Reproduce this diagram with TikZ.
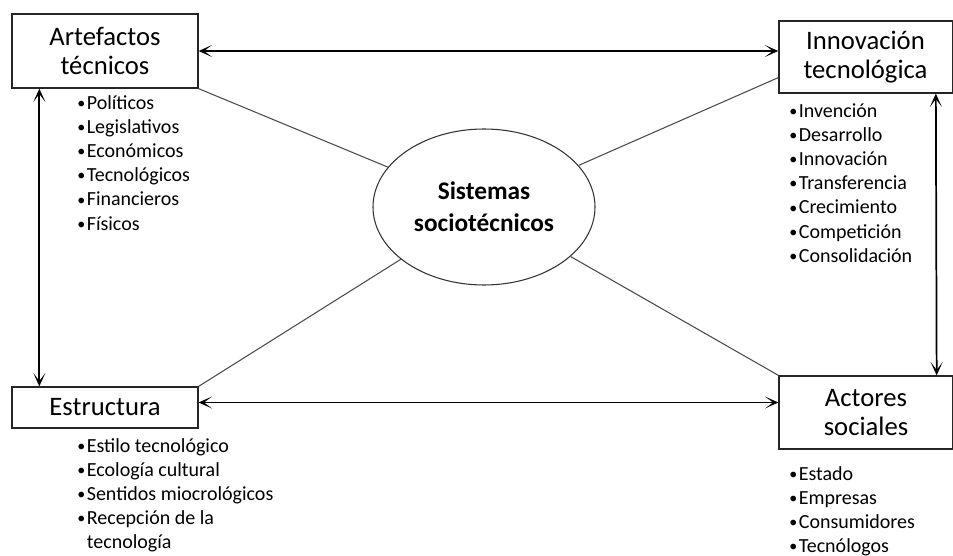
\documentclass[tikz,border=0pt]{standalone}
\usepackage{fontspec}
\setmainfont{Carlito}
\usetikzlibrary{shapes.geometric, arrows.meta, positioning, calc}
\tikzstyle{arrow} = [line width=1.3pt, {Stealth[length=10pt,width=9pt,inset=6pt]}-{Stealth[length=10pt,width=9pt,inset=6pt]}]
\tikzstyle{link} = [line width=0.8pt, draw=black!70]
\tikzstyle{box} = [rectangle, draw=black!85, line width=1pt, align=center, font=\fontsize{20}{21.75}\selectfont]
\tikzstyle{hub} = [ellipse, draw=black!80, line width=0.8pt, minimum width=166.5pt, minimum height=117pt, align=center, font=\bfseries\fontsize{19}{24}\selectfont]
\tikzstyle{items} = [anchor=north west, inner sep=0pt, align=left, font=\fontsize{15}{18.15}\selectfont]
\newcommand{\itm}{\raisebox{0.6pt}{\fontsize{12}{12}\selectfont•}\kern1.2pt}

\begin{document}
\begin{tikzpicture}[x=0.75pt, y=-0.75pt]
    \useasboundingbox (0,0) rectangle (953,556);
    % Entities
    \node[box, minimum width=139.5pt, minimum height=55.5pt] (artefactos) at (105,51) {Artefactos\\técnicos};
    \node[box, minimum width=130pt, minimum height=54pt] (innovacion) at (865.5,57) {Innovación\\tecnológica};
    \node[box, minimum width=139.5pt, minimum height=30.75pt] (estructura) at (105,407.5) {Estructura};
    \node[box, minimum width=130.5pt, minimum height=54.75pt] (actores) at (866,412.5) {Actores\\sociales};
    \node[hub] (sistemas) at (484,207) {Sistemas\\sociotécnicos};

    % Lists
    \node[items] (artefactoslist) at (77,95) {\itm Políticos\\
        \itm Legislativos\\
        \itm Económicos\\
        \itm Tecnológicos\\
        \itm Financieros\\
        \itm Físicos};
    \node[items] (innovacionlist) at (789,103) {\itm Invención\\
        \itm Desarrollo\\
        \itm Innovación\\
        \itm Transferencia\\
        \itm Crecimiento\\
        \itm Competición\\
        \itm Consolidación};
    \node[items] (estructuralist) at (77,438) {\itm Estilo tecnológico\\
        \itm Ecología cultural\\
        \itm Sentidos miocrológicos\\
        \itm Recepción de la\\
        \phantom{\itm}tecnología};
    \node[items] (actoreslist) at (789,466) {\itm Estado\\
        \itm Empresas\\
        \itm Consumidores\\
        \itm Tecnólogos};

    % Relationships
    \draw[arrow] (artefactos.east) -- (artefactos.east -| innovacion.west);
    \draw[arrow] ([yshift=3.75pt]estructura.east) -- ([yshift=3.75pt]estructura.east -| actores.west);
    \draw[arrow] ([xshift=21pt]artefactos.south west) -- ([xshift=21pt]estructura.north west);
    \draw[arrow] ([xshift=-12.75pt]innovacion.south east) -- ([xshift=-12.75pt]actores.north east);
    \draw[link] (sistemas) -- (artefactos.south east);
    \draw[link] (sistemas) -- ([yshift=12pt]innovacion.south west);
    \draw[link] (sistemas) -- (estructura.north east);
    \draw[link] (sistemas) -- (actores.north west);

\end{tikzpicture}
\end{document}
